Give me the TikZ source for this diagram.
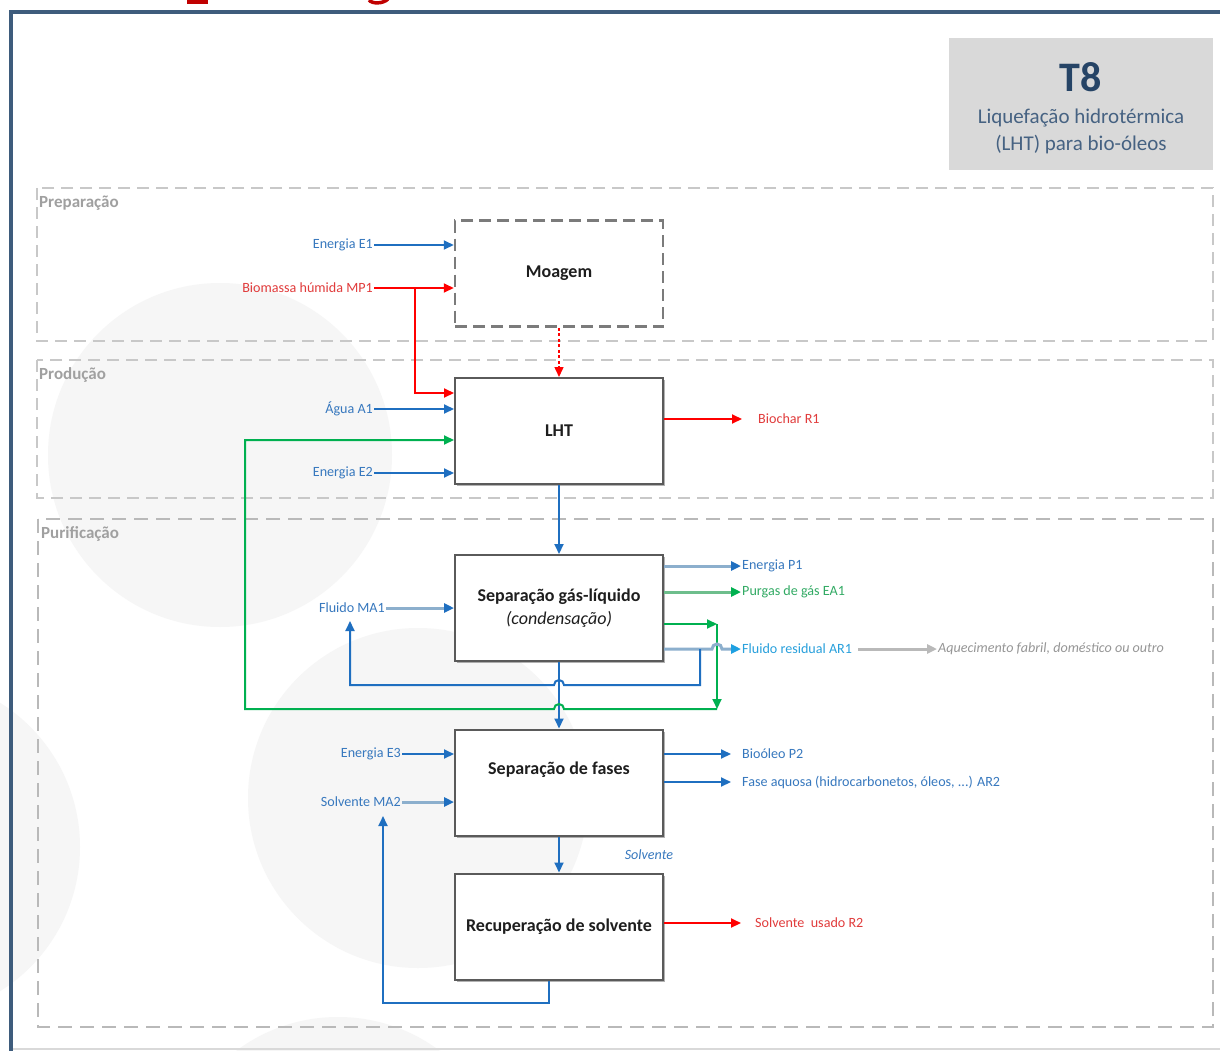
\documentclass[tikz,border=0pt]{standalone}
\usepackage{fontspec}
\setmainfont{Carlito}
\usetikzlibrary{arrows.meta,shadows}

\definecolor{framecol}{RGB}{62,92,124}
\definecolor{titlefill}{RGB}{217,217,217}
\definecolor{titlenavy}{RGB}{38,68,102}
\definecolor{titlesub}{RGB}{70,98,130}
\definecolor{seccol}{RGB}{200,200,200}
\definecolor{seccolb}{RGB}{185,185,185}
\definecolor{seclabcol}{RGB}{160,160,160}
\definecolor{disccol}{RGB}{246,246,246}
\definecolor{boxcol}{RGB}{90,90,90}
\definecolor{boxtext}{RGB}{30,30,30}
\definecolor{lblue}{RGB}{31,111,192}
\definecolor{lsteel}{RGB}{140,175,205}
\definecolor{lred}{RGB}{255,0,0}
\definecolor{lgreen}{RGB}{0,176,80}
\definecolor{lgreenl}{RGB}{110,190,140}
\definecolor{lcyan}{RGB}{30,160,225}
\definecolor{lgray}{RGB}{185,185,185}
\definecolor{tblue}{RGB}{55,120,190}
\definecolor{tred}{RGB}{225,60,60}
\definecolor{tgreen}{RGB}{50,170,100}
\definecolor{tcyan}{RGB}{40,160,220}
\definecolor{tgray}{RGB}{150,150,150}
\definecolor{topred}{RGB}{192,0,0}

\begin{document}
\begin{tikzpicture}[x=1pt,y=-1pt,
  disc/.style={fill=disccol},
  secA/.style={draw=seccol,line width=2.5pt,dash pattern=on 12pt off 7pt},
  secB/.style={draw=seccolb,line width=1.8pt,dash pattern=on 14pt off 8pt},
  seclab/.style={anchor=west,inner sep=0pt,text=seclabcol,font=\fontsize{17}{20}\selectfont\bfseries},
  pbox/.style={draw=boxcol,line width=2pt,fill=white,minimum width=208pt,minimum height=106pt,
    inner sep=0pt,align=center,text=boxtext,font=\fontsize{18}{22}\selectfont\bfseries,
    drop shadow={shadow xshift=2pt,shadow yshift=-2pt,fill=black,opacity=0.3}},
  dbox/.style={draw=boxcol!80,line width=2.5pt,dash pattern=on 12pt off 6pt,fill=white,
    minimum width=208pt,minimum height=106pt,inner sep=0pt,align=center,text=boxtext,
    font=\fontsize{18}{22}\selectfont\bfseries},
  lab/.style={inner sep=1pt,font=\fontsize{14.1}{16}\selectfont},
  ilab/.style={inner sep=1pt,font=\fontsize{14.1}{16}\selectfont\itshape},
  ahead/.style={-{Triangle[length=10pt,width=9pt]}},
  fb/.style={ahead,draw=lblue,line width=2pt},
  fr/.style={ahead,draw=lred,line width=2pt},
  fg/.style={ahead,draw=lgreen,line width=2pt},
  fsb/.style={-{Triangle[length=10pt,width=9pt,color=lblue]},draw=lsteel,line width=3pt},
  fsg/.style={-{Triangle[length=10pt,width=9pt,color=lgreen]},draw=lgreenl,line width=3pt},
  fsc/.style={-{Triangle[length=10pt,width=9pt,color=lcyan]},draw=lsteel,line width=3pt},
  fgray/.style={-{Triangle[length=10pt,width=9pt]},draw=lgray,line width=3pt},
  fdot/.style={-{Triangle[length=10pt,width=9pt]},draw=lred,line width=1.5pt,dash pattern=on 3pt off 2.5pt}
]
\useasboundingbox (0,0) rectangle (1220,1051);
\clip (0,0) rectangle (1220,1051);
\fill[white] (0,0) rectangle (1220,1051);

% soft background discs
\fill[disc] (220,455) circle[radius=172pt];
\fill[disc] (418,798) circle[radius=170pt];
\fill[disc] (-90,847) circle[radius=170pt];
\fill[disc] (338,1187) circle[radius=170pt];

% fragments of the red heading above the frame
\fill[topred] (187,-2) rectangle (208,4);
\draw[topred,line width=3.5pt] (369,0) .. controls (372,4) and (383,4) .. (388,-1);

% page frame
\draw[framecol,line width=4pt] (11,1060) -- (11,12) -- (1230,12);
\draw[gray!30,line width=1.2pt] (13,1049) -- (1220,1049);

% title card
\node[fill=titlefill,minimum width=264pt,minimum height=132pt,inner sep=0pt] (tcard) at (1081,104) {};
\node[text=titlenavy,font=\fontsize{42}{44}\selectfont\bfseries,inner sep=0pt] (t8) at (1081,77) {T8};
\node[text=titlesub,font=\fontsize{21}{27}\selectfont,align=center,inner sep=0pt] (tsub) at (1081,131) {Liquefação hidrotérmica\\(LHT) para bio-óleos};

% process stages
\draw[secA] (37,188) rectangle (1213,341);
\node[seclab] (prep) at (39,203) {Preparação};
\draw[secA] (37,360) rectangle (1213,498);
\node[seclab] (prod) at (39,375) {Produção};
\draw[secB] (38,519) rectangle (1213,1027);
\node[seclab] (puri) at (41,534) {Purificação};

% unit operations
\node[dbox] (moagem) at (559,273.5) {Moagem};
\node[pbox] (lht) at (559,431) {LHT};
\node[pbox] (sgl) at (559,608) {Separação gás-líquido\\[1pt]{\mdseries\itshape (condensação)}};
\node[pbox] (sf) at (559,782.5) {Separação de fases\\[1pt]\strut};
\node[pbox] (rs) at (559,926.5) {Recuperação de solvente};

% inputs
\node[lab,text=tblue,anchor=east] (e1) at (374,245) {Energia E1};
\node[lab,text=tred,anchor=east] (mp1) at (374,288) {Biomassa húmida MP1};
\node[lab,text=tblue,anchor=east] (a1) at (374,409) {Água A1};
\node[lab,text=tblue,anchor=east] (e2) at (374,473) {Energia E2};
\node[lab,text=tblue,anchor=east] (ma1) at (386,608) {Fluido MA1};
\node[lab,text=tblue,anchor=east] (e3) at (402,754) {Energia E3};
\node[lab,text=tblue,anchor=east] (ma2) at (402,802) {Solvente MA2};

\draw[fb] (e1.east) -- (moagem.west |- e1.east);
\draw[fr] (mp1.east) -- (moagem.west |- mp1.east);
\coordinate (mpk) at (415,288);
\coordinate (mpd) at (415,393);
\draw[fr] (mpk) -- (mpd) -- (lht.west |- mpd);
\draw[fdot] (moagem.south) -- (lht.north);
\draw[fb] (a1.east) -- (lht.west |- a1.east);
\draw[fb] (e2.east) -- (lht.west |- e2.east);
\draw[fb] (lht.south) -- (sgl.north);
\draw[fsb] (ma1.east) -- (sgl.west |- ma1.east);
\draw[fb] (sgl.south) -- (sf.north);
\draw[fb] (e3.east) -- (sf.west |- e3.east);
\draw[fsb] (ma2.east) -- (sf.west |- ma2.east);
\draw[fb] (sf.south) -- (rs.north);
\node[ilab,text=tblue] (solv) at (649,855) {Solvente};

% outputs
\node[lab,text=tred,anchor=west] (bio) at (757,419) {Biochar R1};
\draw[fr] (lht.east |- bio.west) -- ([xshift=-15pt]bio.west);
\node[lab,text=tblue,anchor=west] (p1) at (741,566) {Energia P1};
\draw[fsb] (sgl.east |- p1.west) -- (p1.west);
\node[lab,text=tgreen,anchor=west] (ea1) at (741,592) {Purgas de gás EA1};
\draw[fsg] (sgl.east |- ea1.west) -- (ea1.west);
\node[lab,text=tcyan,anchor=west] (ar1) at (741,649) {Fluido residual AR1};
\node[ilab,text=tgray,anchor=west] (aq) at (937,649) {Aquecimento fabril, doméstico ou outro};
\draw[fgray] ([xshift=5pt]ar1.east) -- (aq.west);
\node[lab,text=tblue,anchor=west] (p2) at (741,754) {Bioóleo P2};
\draw[fb] (sf.east |- p2.west) -- ([xshift=-10pt]p2.west);
\node[lab,text=tblue,anchor=west] (ar2) at (741,782) {Fase aquosa (hidrocarbonetos, óleos, ...) AR2};
\draw[fb] (sf.east |- ar2.west) -- ([xshift=-10pt]ar2.west);
\node[lab,text=tred,anchor=west] (r2) at (754,923) {Solvente\ \ usado R2};
\draw[fr] (rs.east |- r2.west) -- ([xshift=-13pt]r2.west);

% recycled condensate back to the LHT reactor
\coordinate (gtr) at (717,624);
\coordinate (gbr) at (717,709);
\coordinate (gbl) at (245,709);
\coordinate (gtl) at (245,440);
\draw[fg] (sgl.east |- gtr) -- (gtr);
\draw[fg] (gtr) -- (gbr);
\draw[fg] (gbr) -- (564,709) arc[start angle=0,end angle=180,radius=5pt] -- (gbl) -- (gtl) -- (lht.west |- gtl);

% residual fluid leaving the condenser, with its return loop
\draw[fsc] (sgl.east |- ar1.west) -- (712,649) arc[start angle=180,end angle=0,radius=5pt] -- (ar1.west);
\coordinate (rk1) at (700,649);
\coordinate (rk2) at (700,685);
\coordinate (rk3) at (350,685);
\coordinate (rk4) at (350,621);
\draw[fb] (rk1) -- (rk2) -- (564,685) arc[start angle=0,end angle=180,radius=5pt] -- (rk3) -- (rk4);

% solvent recovery loop
\coordinate (sk1) at (549,1003);
\coordinate (sk2) at (383,1003);
\coordinate (sk3) at (383,816);
\draw[fb] (sk1 |- rs.south) -- (sk1) -- (sk2) -- (sk3);
\end{tikzpicture}
\end{document}
